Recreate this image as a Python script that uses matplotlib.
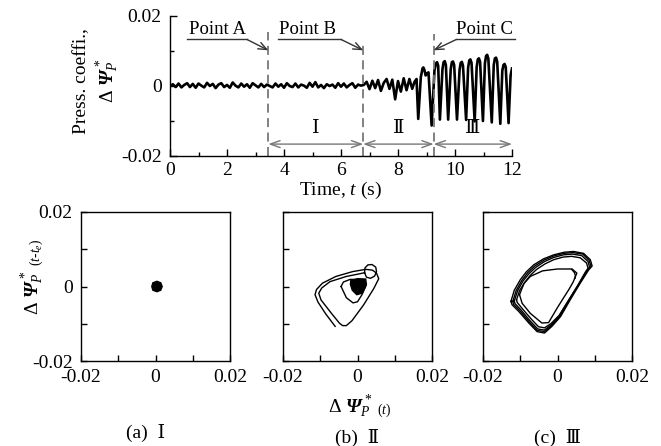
import numpy as np
import matplotlib
matplotlib.use('Agg')
import matplotlib.pyplot as plt
from matplotlib.ticker import MultipleLocator

plt.rcParams['font.family'] = ['Liberation Serif', 'DejaVu Serif', 'DejaVu Sans']
plt.rcParams['mathtext.fontset'] = 'custom'
plt.rcParams['mathtext.rm'] = 'Liberation Serif'
plt.rcParams['mathtext.it'] = 'Liberation Serif:italic'
plt.rcParams['mathtext.bf'] = 'Liberation Serif:bold:italic'
try:
    plt.rcParams['mathtext.bfit'] = 'Liberation Serif:bold:italic'
    PSI = r'\mathbfit{\Psi}'
except KeyError:
    PSI = r'\mathbf{\Psi}'

UNIT = 1e-3  # all values below are in units of 0.001

# ---------------- time series (pressure coefficient) ----------------
quiet_step = 0.1
quiet_vals = [0.0, 0.5, -0.3, 0.7, -0.4, 0.3, 0.8, -0.3, 0.6, -0.5, 0.7, 0.1, -0.4, 0.9, 0.0, 0.6, -0.6, 0.4, 0.8, -0.3,
              0.3, -0.5, 1.0, 0.1, -0.4, 0.7, -0.2, 0.5, -0.5, 0.8, 0.2, -0.4, 0.6, -0.3, 0.4, 0.0, -0.4, 0.7, -0.2, 0.5,
              -0.5, 0.8, 0.0, -0.3, 0.7, -0.4, 0.4, 0.1, -0.5, 0.9, -0.2, 1.1, -0.4, 0.3, -0.6, 0.5, 0.0, 0.4, -0.5, 0.8,
              -0.2, 0.7, -0.4, 0.3, 0.8, -0.5, 0.4, 0.1]            # t = 0.0 ... 6.7 s
onset_start = 6.8
onset_vals = [0.3, 1.2, -0.9, 1.5, -0.6, 1.7, -1.4, 0.9, 2.0, -0.8, 1.8, -3.8, 1.4, -1.6, 2.2, -1.2, 2.0]  # t = 6.8 ... 8.4 s
osc_t = [8.50, 8.58, 8.65, 8.71, 8.80, 8.86, 8.89, 8.93, 8.97, 9.02, 9.07, 9.18,
         9.28, 9.33, 9.37, 9.41, 9.47,
         9.56, 9.60, 9.64, 9.68, 9.76,
         9.85, 9.89, 9.93, 9.97, 10.07,
         10.16, 10.20, 10.24, 10.28, 10.39,
         10.46, 10.50, 10.54, 10.58, 10.69,
         10.76, 10.80, 10.84, 10.88, 10.98,
         11.05, 11.09, 11.13, 11.17, 11.29,
         11.36, 11.40, 11.44, 11.48, 11.59,
         11.66, 11.70, 11.74, 11.78, 11.88,
         11.95, 12.00]
osc_vals = [-0.8, 1.2, 2.0, -9.4, 2.5, 5.0, 5.3, 4.5, 3.0, 3.6, 3.9, -11.3,
            4.5, 6.4, 6.8, 5.8, -9.6,
            4.8, 6.8, 7.1, 6.0, -9.6,
            4.8, 6.8, 7.0, 6.0, -9.6,
            4.6, 6.6, 6.9, 5.8, -9.7,
            5.2, 7.3, 7.6, 6.6, -10.1,
            5.4, 7.6, 7.9, 6.9, -10.0,
            6.5, 8.6, 8.9, 7.8, -10.4,
            6.0, 7.9, 8.1, 7.0, -10.8,
            4.4, 6.0, 6.3, 5.4, -10.6,
            3.0, 5.0]

point_times = [3.45, 6.78, 9.25]          # Point A, B, C
point_names = ['Point A', 'Point B', 'Point C']
region_names = ['\u2160', '\u2161', '\u2162']
time_ticks = [0, 2, 4, 6, 8, 10, 12]
press_ticks = [-0.02, 0, 0.02]
press_ticklabels = ['-0.02', '0', '0.02']

# ---------------- phase portraits (x(t), x(t-te)) ----------------
a_blob = [(-1.0, 0.0), (-0.7, 1.0), (0.4, 1.4), (1.4, 1.0), (1.8, 0.0), (1.4, -1.0), (0.4, -1.4), (-0.7, -1.0)]

b_blob = [(-1.8, 1.6), (0.0, 2.1), (2.2, 2.0), (2.4, 0.5), (1.2, -1.8), (-0.2, -2.2), (-1.4, -1.0), (-1.9, 0.6)]
b_mid = [(-4.4, 0.0), (-3.8, 1.2), (-2.0, 1.9), (0.5, 1.9), (2.0, 1.2), (2.2, 0.0), (1.2, -2.2), (0.0, -4.1),
         (-1.2, -4.4), (-3.0, -3.0), (-4.4, 0.0)]
b_circle = [(1.9, 3.7), (2.0, 5.0), (2.8, 5.8), (3.9, 5.9), (4.9, 5.2), (5.1, 4.0), (4.6, 2.8), (3.5, 2.2),
            (2.4, 2.5), (1.9, 3.7)]
b_outer = [(-6.0, -10.7), (-8.5, -7.4), (-10.6, -4.2), (-11.4, -2.2), (-11.0, -0.8), (-9.4, 0.9), (-5.8, 2.7),
           (-1.3, 4.0), (2.2, 4.6), (4.0, 4.4), (5.1, 3.6), (5.7, 2.1), (4.4, -0.5), (1.6, -5.0), (-1.5, -9.2),
           (-3.0, -10.5), (-4.0, -10.5), (-4.8, -9.9), (-7.0, -7.2), (-9.8, -3.6), (-10.4, -1.8), (-9.6, -0.4),
           (-7.4, 1.3), (-3.0, 2.7), (0.5, 3.4), (1.9, 3.7)]

c_loop1 = [(-12.5, -4.0), (-11.6, -1.0), (-10.0, 1.8), (-8.4, 3.9), (-6.4, 5.8), (-3.8, 7.4), (-1.0, 8.5),
           (1.8, 9.2), (4.3, 9.4), (7.0, 8.9), (8.8, 7.2), (9.3, 5.5),
           (8.4, 4.5), (6.1, 0.9), (3.4, -3.6), (0.8, -8.1), (-1.5, -10.7), (-3.5, -12.5), (-5.5, -12.1),
           (-7.7, -9.8), (-10.4, -6.7), (-12.2, -4.9), (-12.5, -4.0)]
c_loop2 = [(-12.0, -4.0), (-11.1, -1.1), (-9.6, 1.6), (-8.0, 3.7), (-6.1, 5.5), (-3.6, 7.1), (-1.0, 8.2),
           (1.7, 8.9), (4.2, 9.1), (6.8, 8.7), (8.5, 7.0), (9.0, 5.4),
           (8.1, 4.4), (5.9, 0.8), (3.2, -3.6), (0.7, -8.0), (-1.6, -10.5), (-3.5, -12.1), (-5.4, -11.8),
           (-7.5, -9.6), (-10.1, -6.5), (-11.8, -4.8), (-12.0, -4.0)]
c_loop3 = [(-11.6, -3.9), (-10.7, -1.1), (-9.3, 1.4), (-7.7, 3.4), (-5.9, 5.1), (-3.5, 6.7), (-1.0, 7.8),
           (1.6, 8.5), (4.0, 8.7), (6.5, 8.3), (8.2, 6.7), (8.6, 5.2),
           (7.8, 4.2), (5.7, 0.6), (3.0, -3.7), (0.5, -7.9), (-1.7, -10.3), (-3.5, -11.7), (-5.3, -11.4),
           (-7.3, -9.3), (-9.8, -6.3), (-11.4, -4.6), (-11.6, -3.9)]
c_loop4 = [(-11.0, -3.6), (-10.2, -1.1), (-8.8, 1.1), (-7.3, 3.0), (-5.6, 4.6), (-3.3, 6.1), (-1.0, 7.2),
           (1.5, 7.9), (3.8, 8.1), (6.1, 7.7), (7.8, 6.3), (8.2, 4.9),
           (7.5, 3.9), (5.5, 0.4), (2.9, -3.8), (0.4, -7.8), (-1.8, -10.0), (-3.5, -11.1), (-5.1, -10.8),
           (-7.0, -8.8), (-9.4, -6.0), (-10.8, -4.3), (-11.0, -3.6)]
c_loop5 = [(-10.2, -2.2), (-9.0, 0.8), (-7.3, 2.7), (-4.0, 4.2), (0.0, 4.7), (3.9, 4.7), (5.2, 3.6), (4.2, 1.2),
           (3.0, -0.9), (1.4, -3.4), (-0.1, -5.8), (-2.4, -9.7), (-4.2, -9.8), (-7.3, -7.2), (-9.5, -4.5),
           (-10.2, -2.2)]
c_start = [(3.8, 4.6), (4.5, 3.8), (4.8, 3.0), (4.7, 2.2)]

phase_ticks = [-0.02, 0, 0.02]
phase_ticklabels = ['-0.02', '0', '0.02']

# ---------------- figure ----------------
W, H = 661, 446
fig = plt.figure(figsize=(W / 100, H / 100), dpi=100)


def frac(l, t, r, b):
    return [l / W, 1 - b / H, (r - l) / W, (b - t) / H]


FS = 14
ax = fig.add_axes(frac(170, 16, 512, 156))
t_quiet = np.arange(len(quiet_vals)) * quiet_step
t_onset = onset_start + np.arange(len(onset_vals)) * quiet_step
t_all = np.concatenate([t_quiet, t_onset, np.array(osc_t)])
v_all = np.concatenate([quiet_vals, onset_vals, osc_vals]) * UNIT
ax.plot(t_all, v_all, color='black', lw=1.9, solid_joinstyle='round')
ax.set_xlim(0, 12)
ax.set_ylim(-0.02, 0.02)
ax.spines['top'].set_visible(False)
ax.spines['right'].set_visible(False)
for s in ax.spines.values():
    s.set_linewidth(1.0)
ax.set_xticks(time_ticks)
ax.set_xticklabels([str(v) for v in time_ticks])
ax.set_yticks(press_ticks)
ax.set_yticklabels(press_ticklabels)
ax.xaxis.set_minor_locator(MultipleLocator(1))
ax.yaxis.set_minor_locator(MultipleLocator(0.01))
ax.tick_params(which='both', direction='in', labelsize=FS, pad=6, width=1)
ax.tick_params(axis='x', pad=4)
ax.tick_params(which='major', length=5)
ax.tick_params(which='minor', length=3)

gray = '#777777'
dash_tops = [0.0155, 0.013, 0.015]
for tx, top in zip(point_times, dash_tops):
    ax.plot([tx, tx], [-0.02, top], color=gray, lw=1.3, ls=(0, (5, 3)))

bounds = point_times + [12]
arrow_y = -0.0166
for i in range(3):
    ax.annotate('', xy=(bounds[i], arrow_y), xytext=(bounds[i + 1], arrow_y),
                arrowprops=dict(arrowstyle='<->,head_length=0.7,head_width=0.25', color=gray, lw=1.0,
                                shrinkA=0, shrinkB=0), annotation_clip=False)
    ax.text((bounds[i] + bounds[i + 1]) / 2, -0.0122, region_names[i], ha='center', va='center',
            fontsize=FS, family=['Liberation Serif', 'DejaVu Serif', 'Noto Sans CJK JP'])

# Point annotations (underline + arrow)
ul_y = 0.0133
underlines = [(0.58, 2.7), (3.8, 6.0), (12.1, 10.05)]
text_x = [1.65, 4.84, 11.05]
for name, tx, (x0, x1), px in zip(point_names, text_x, underlines, point_times):
    ax.text(tx, 0.0162, name, ha='center', va='center', fontsize=13.5)
    ax.plot([x0, x1], [ul_y, ul_y], color='#333333', lw=1.0, clip_on=False)
    ax.annotate('', xy=(px, 0.0102), xytext=(x1, ul_y),
                arrowprops=dict(arrowstyle='->,head_length=0.6,head_width=0.25', color='#333333', lw=1.0,
                                shrinkA=0, shrinkB=0), annotation_clip=False)

fig.text(82 / W, 1 - 81 / H, 'Press. coeffi.,', rotation=90, ha='center', va='center', fontsize=FS)
fig.text(108 / W, 1 - 81 / H, r'$\Delta\ ' + PSI + r'^{\,*}_{P}$', rotation=90, ha='center', va='center',
         fontsize=FS)
fig.text(341 / W, 1 - 190 / H, r'Time, $t$ (s)', ha='center', va='center', fontsize=FS)

# ---------------- phase portraits ----------------
lefts = [81, 283, 483]
axes = []
for l in lefts:
    a = fig.add_axes(frac(l, 212, l + 149, 361))
    a.set_xlim(-0.02, 0.02)
    a.set_ylim(-0.02, 0.02)
    a.set_xticks(phase_ticks)
    a.set_xticklabels(phase_ticklabels)
    a.set_yticks(phase_ticks)
    a.set_yticklabels(phase_ticklabels if l == lefts[0] else [])
    a.xaxis.set_minor_locator(MultipleLocator(0.01))
    a.yaxis.set_minor_locator(MultipleLocator(0.01))
    a.tick_params(which='both', direction='in', labelsize=FS, pad=6, width=1)
    a.tick_params(which='major', length=4)
    a.tick_params(which='minor', length=4)
    for s in a.spines.values():
        s.set_linewidth(1.0)
    axes.append(a)


def xy(pts):
    arr = np.array(pts) * UNIT
    return arr[:, 0], arr[:, 1]


ax_a, ax_b, ax_c = axes
x, y = xy(a_blob)
ax_a.fill(x, y, color='black', lw=1)

x, y = xy(b_blob)
ax_b.fill(x, y, color='black', lw=1)
for seg in (b_mid, b_circle, b_outer):
    x, y = xy(seg)
    ax_b.plot(x, y, color='black', lw=1.0, solid_joinstyle='round')

for seg in (c_loop1, c_loop2, c_loop3, c_loop4, c_loop5, c_start):
    x, y = xy(seg)
    ax_c.plot(x, y, color='black', lw=1.0, solid_joinstyle='round')

fig.text(33 / W, 1 - 277 / H, r'$\Delta\ ' + PSI + r'^{\,*}_{P}{}_{\ (t\text{-}t_e)}$', rotation=90,
         ha='center', va='center', fontsize=FS)
fig.text(360 / W, 1 - 407 / H, r'$\Delta\ ' + PSI + r'^{\,*}_{P}{}_{\ (t)}$', ha='center', va='center',
         fontsize=FS)

cap_family = ['Liberation Serif', 'DejaVu Serif', 'Noto Sans CJK JP']
fig.text(146 / W, 1 - 433 / H, '(a)  \u2160', ha='center', va='center', fontsize=FS, family=cap_family)
fig.text(357 / W, 1 - 438 / H, '(b)  \u2161', ha='center', va='center', fontsize=FS, family=cap_family)
fig.text(557 / W, 1 - 438 / H, '(c)  \u2162', ha='center', va='center', fontsize=FS, family=cap_family)

fig.savefig('out.png', dpi=100)
